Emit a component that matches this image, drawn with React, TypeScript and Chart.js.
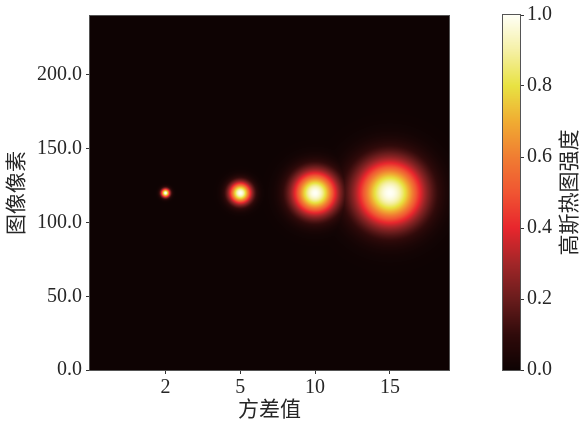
import React, { useEffect, useRef } from 'react';
import { Chart, registerables } from 'chart.js';

Chart.register(...registerables);

// ---- data ----
const varianceLabels = ['2', '5', '10', '15'];
const sigmas = [2, 5, 10, 15];
const centersX = [50, 100, 150, 200];
const centersY = [120, 120, 120, 120];
const yTicks = [0, 50, 100, 150, 200];
const cbTicks = [0, 0.2, 0.4, 0.6, 0.8, 1.0];
const cmapPos = [0, 0.1, 0.2, 0.3, 0.4, 0.5, 0.6, 0.7, 0.8, 0.9, 1.0];
const cmapRGB = [
  [14, 3, 3],
  [48, 10, 10],
  [105, 28, 28],
  [162, 38, 40],
  [232, 38, 45],
  [240, 85, 50],
  [240, 125, 50],
  [240, 172, 50],
  [232, 226, 66],
  [245, 240, 165],
  [255, 255, 246],
];

const FONT = '"Liberation Serif", "Noto Sans CJK SC", serif';
const TEXT_COLOR = '#262626';

function cmapRGBAt(v: number): number[] {
  const t = Math.max(0, Math.min(1, v));
  for (let i = 1; i < cmapPos.length; i++) {
    if (t <= cmapPos[i]) {
      const f = (t - cmapPos[i - 1]) / (cmapPos[i] - cmapPos[i - 1]);
      const a = cmapRGB[i - 1];
      const b = cmapRGB[i];
      return [a[0] + (b[0] - a[0]) * f, a[1] + (b[1] - a[1]) * f, a[2] + (b[2] - a[2]) * f];
    }
  }
  return cmapRGB[cmapRGB.length - 1];
}

function intensity(x: number, y: number): number {
  let m = 0;
  for (let i = 0; i < sigmas.length; i++) {
    const dx = x - centersX[i];
    const dy = y - centersY[i];
    const s = sigmas[i];
    const v = Math.exp(-(dx * dx + dy * dy) / (2 * s * s));
    if (v > m) m = v;
  }
  return m;
}

const heatmapPlugin = {
  id: 'heatmap',
  beforeDatasetsDraw(chart: any) {
    const { ctx, chartArea: a, scales } = chart;
    const xs = scales.x;
    const ys = scales.y;
    const w = Math.round(a.right - a.left);
    const h = Math.round(a.bottom - a.top);
    const off = document.createElement('canvas');
    off.width = w;
    off.height = h;
    const octx = off.getContext('2d')!;
    const img = octx.createImageData(w, h);
    const vxs: number[] = [];
    for (let i = 0; i < w; i++) vxs.push(xs.getValueForPixel(a.left + i + 0.5));
    for (let j = 0; j < h; j++) {
      const vy = ys.getValueForPixel(a.top + j + 0.5);
      for (let i = 0; i < w; i++) {
        const c = cmapRGBAt(intensity(vxs[i], vy));
        const k = (j * w + i) * 4;
        img.data[k] = c[0];
        img.data[k + 1] = c[1];
        img.data[k + 2] = c[2];
        img.data[k + 3] = 255;
      }
    }
    octx.putImageData(img, 0, 0);
    ctx.drawImage(off, a.left, a.top);
  },
  afterDraw(chart: any) {
    const { ctx, chartArea: a } = chart;
    ctx.save();
    ctx.strokeStyle = '#555';
    ctx.lineWidth = 1;
    ctx.strokeRect(Math.round(a.left) - 0.5, Math.round(a.top) - 0.5, Math.round(a.right - a.left) + 1, Math.round(a.bottom - a.top) + 1);
    ctx.restore();
  },
};

const colorbarPlugin = {
  id: 'colorbar',
  beforeDatasetsDraw(chart: any) {
    const { ctx, chartArea: a, scales } = chart;
    const ys = scales.y;
    for (let py = Math.round(a.top); py < Math.round(a.bottom); py++) {
      const c = cmapRGBAt(ys.getValueForPixel(py + 0.5));
      ctx.fillStyle = `rgb(${Math.round(c[0])},${Math.round(c[1])},${Math.round(c[2])})`;
      ctx.fillRect(a.left, py, a.right - a.left, 1);
    }
  },
  afterDraw(chart: any) {
    const { ctx, chartArea: a } = chart;
    ctx.save();
    ctx.strokeStyle = '#555';
    ctx.lineWidth = 1;
    ctx.strokeRect(Math.round(a.left) - 0.5, Math.round(a.top) - 0.5, Math.round(a.right - a.left) + 1, Math.round(a.bottom - a.top) + 1);
    ctx.translate(a.right + 50, (a.top + a.bottom) / 2);
    ctx.rotate(-Math.PI / 2);
    ctx.fillStyle = TEXT_COLOR;
    ctx.font = `21px ${FONT}`;
    ctx.textAlign = 'center';
    ctx.textBaseline = 'middle';
    ctx.fillText('高斯热图强度', 0, 0);
    ctx.restore();
  },
};

export default function App() {
  const mainRef = useRef<HTMLCanvasElement>(null);
  const cbRef = useRef<HTMLCanvasElement>(null);

  useEffect(() => {
    const tickFont = { family: FONT, size: 20 };
    const main = new Chart(mainRef.current!, {
      type: 'scatter',
      data: {
        datasets: [
          {
            data: centersX.map((x, i) => ({ x, y: centersY[i] })),
            pointRadius: 0,
          },
        ],
      },
      plugins: [heatmapPlugin],
      options: {
        animation: false,
        responsive: false,
        maintainAspectRatio: false,
        layout: { padding: { left: 0, top: 12, right: 21, bottom: 0 } },
        plugins: { legend: { display: false }, tooltip: { enabled: false } },
        scales: {
          x: {
            type: 'linear',
            min: -0.5,
            max: 239.5,
            afterBuildTicks: (s: any) => {
              s.ticks = centersX.map((v) => ({ value: v }));
            },
            afterFit: (s: any) => {
              s.height = 55;
            },
            ticks: {
              autoSkip: false,
              maxRotation: 0,
              padding: 2,
              color: TEXT_COLOR,
              font: tickFont,
              callback: (_v: any, i: number) => varianceLabels[i],
            },
            grid: { drawOnChartArea: false, drawTicks: true, tickLength: 4, color: '#333' },
            border: { display: false },
            title: {
              display: true,
              text: '方差值',
              color: TEXT_COLOR,
              font: { family: FONT, size: 21 },
              padding: { top: 0, bottom: 2 },
            },
          },
          y: {
            type: 'linear',
            min: 0,
            max: 240,
            afterBuildTicks: (s: any) => {
              s.ticks = yTicks.map((v) => ({ value: v }));
            },
            afterFit: (s: any) => {
              s.width = 90;
            },
            ticks: {
              autoSkip: false,
              padding: 4,
              color: TEXT_COLOR,
              font: tickFont,
              callback: (v: any) => Number(v).toFixed(1),
            },
            grid: { drawOnChartArea: false, drawTicks: true, tickLength: 4, color: '#333' },
            border: { display: false },
            title: {
              display: true,
              text: '图像像素',
              color: TEXT_COLOR,
              font: { family: FONT, size: 21 },
              padding: { top: 5, bottom: 0 },
            },
          },
        },
      },
    } as any);

    const cb = new Chart(cbRef.current!, {
      type: 'scatter',
      data: { datasets: [{ data: [], pointRadius: 0 }] },
      plugins: [colorbarPlugin],
      options: {
        animation: false,
        responsive: false,
        maintainAspectRatio: false,
        layout: { padding: { left: 33, top: 12, right: 0, bottom: 55 } },
        plugins: { legend: { display: false }, tooltip: { enabled: false } },
        scales: {
          x: { type: 'linear', display: false, min: 0, max: 1 },
          y: {
            type: 'linear',
            position: 'right',
            min: 0,
            max: 1,
            afterBuildTicks: (s: any) => {
              s.ticks = cbTicks.map((v) => ({ value: v }));
            },
            afterFit: (s: any) => {
              s.width = 62;
            },
            ticks: {
              autoSkip: false,
              padding: 3,
              color: TEXT_COLOR,
              font: tickFont,
              callback: (v: any) => Number(v).toFixed(1),
            },
            grid: { drawOnChartArea: false, drawTicks: true, tickLength: 4, color: '#333' },
            border: { display: false },
          },
        },
      },
    } as any);

    return () => {
      main.destroy();
      cb.destroy();
    };
  }, []);

  return (
    <div style={{ position: 'fixed', left: 0, top: 0, width: 582, height: 425, background: '#fff' }}>
      <canvas ref={mainRef} width={470} height={425} style={{ position: 'absolute', left: 0, top: 0 }} />
      <canvas ref={cbRef} width={112} height={425} style={{ position: 'absolute', left: 470, top: 0 }} />
    </div>
  );
}
